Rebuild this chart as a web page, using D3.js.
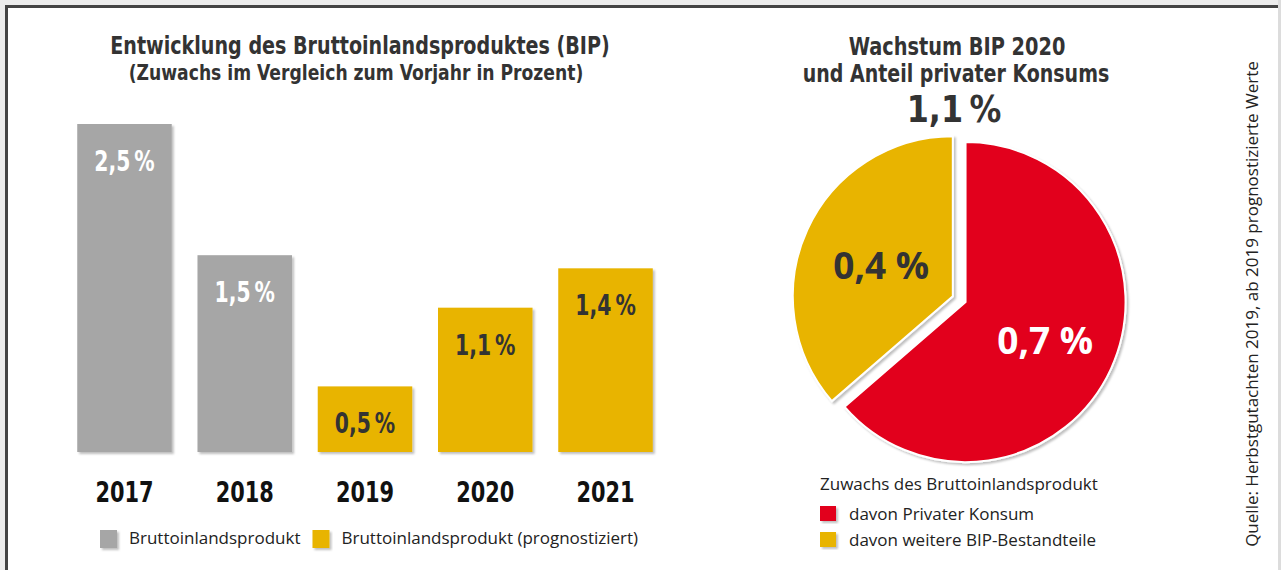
<!DOCTYPE html>
<html>
<head>
<meta charset="utf-8">
<script src="https://cdn.jsdelivr.net/npm/d3@7"></script>
<style>
  body { margin: 0; background: #ececec; overflow: hidden; }
  svg { display: block; }
</style>
</head>
<body>
<div id="chart"></div>
<script>
// ── Daten ────────────────────────────────────────────
const years       = ['2017', '2018', '2019', '2020', '2021'];
const growth      = [2.5, 1.5, 0.5, 1.1, 1.4];
const forecast    = [false, false, true, true, true];
const barLegend   = ['Bruttoinlandsprodukt', 'Bruttoinlandsprodukt (prognostiziert)'];

const pieLabels   = ['davon Privater Konsum', 'davon weitere BIP-Bestandteile'];
const pieValues   = [0.7, 0.4];
const pieTotal    = 1.1;

const W = 1281, H = 570;
const GREY = '#a6a6a6', YELLOW = '#e8b400', RED = '#e2001a', INK = '#333333';
const COND = "'DejaVu Sans Condensed', 'DejaVu Sans', sans-serif";
const SANS = "'Open Sans', 'Noto Sans', sans-serif";

const fmt = (v, sep) => v.toFixed(1).replace('.', ',') + sep + '%';

// schmale Schrift: horizontal gestauchter Text (kein Narrow-Font installiert)
function narrowText(g, x, y, sx, size) {
    return g.append('text')
        .attr('transform', `translate(${x},${y}) scale(${sx},1)`)
        .attr('text-anchor', 'middle')
        .style('font-family', COND).style('font-weight', 'bold').style('font-size', size + 'px')
        .attr('fill', INK);
}

const svg = d3.select('#chart').append('svg')
    .attr('width', W).attr('height', H);

const defs = svg.append('defs');
defs.append('filter').attr('id', 'shadow')
    .attr('x', '-10%').attr('y', '-10%').attr('width', '130%').attr('height', '130%')
    .append('feDropShadow')
    .attr('dx', 2).attr('dy', 2).attr('stdDeviation', 1.3)
    .attr('flood-color', '#000').attr('flood-opacity', 0.25);

// ── Rahmen ───────────────────────────────────────────
svg.append('rect').attr('width', W).attr('height', H).attr('fill', '#ececec');
svg.append('rect').attr('x', 8).attr('y', 8).attr('width', 1270).attr('height', H - 8).attr('fill', '#fff');
svg.append('rect').attr('x', 5).attr('y', 5).attr('width', 1273).attr('height', 3).attr('fill', '#444');
svg.append('rect').attr('x', 5).attr('y', 5).attr('width', 3).attr('height', H - 5).attr('fill', '#444');
svg.append('rect').attr('x', 1278).attr('y', 0).attr('width', 3).attr('height', H).attr('fill', '#dcdcdc');

// ── Balkendiagramm ───────────────────────────────────
const x = d3.scaleBand().domain(years).range([64, 666]).paddingInner(0.214).paddingOuter(0.11);
const y = d3.scaleLinear().domain([0, 2.5]).range([452, 124]);

const left = svg.append('g');

narrowText(left, 360, 54, 0.885, 24).text('Entwicklung des Bruttoinlandsproduktes (BIP)');
narrowText(left, 356, 80, 0.91, 21).text('(Zuwachs im Vergleich zum Vorjahr in Prozent)');

const bars = left.selectAll('g.bar')
    .data(years.map((yr, i) => ({ yr, v: growth[i], f: forecast[i] })))
    .join('g').attr('class', 'bar');

bars.append('rect')
    .attr('x', d => x(d.yr))
    .attr('y', d => y(d.v))
    .attr('width', x.bandwidth())
    .attr('height', d => y(0) - y(d.v))
    .attr('fill', d => d.f ? YELLOW : GREY)
    .attr('filter', 'url(#shadow)');

bars.each(function (d) {
    narrowText(d3.select(this), x(d.yr) + x.bandwidth() / 2, y(d.v) + 47, 0.78, 29)
        .attr('fill', d.f ? INK : '#fff')
        .text(fmt(d.v, '\u2009'));
});

// Grundlinie
left.append('line')
    .attr('x1', 45).attr('x2', 665)
    .attr('y1', 459).attr('y2', 459)
    .attr('stroke', '#333').attr('stroke-width', 3)
    .attr('filter', 'url(#shadow)');

// Jahreszahlen
const xAxis = left.append('g')
    .attr('transform', 'translate(0,459)')
    .call(d3.axisBottom(x).tickSize(0).tickPadding(43));
xAxis.select('.domain').remove();
xAxis.selectAll('text')
    .attr('dy', 0)
    .attr('transform', 'scale(0.8,1)')
    .style('font-family', COND).style('font-weight', 'bold').style('font-size', '29px')
    .attr('fill', '#111');

// Legende links
const lgL = left.append('g').attr('transform', 'translate(100,530)');
let lx = 0;
barLegend.forEach((label, i) => {
    lgL.append('rect').attr('x', lx).attr('y', 0).attr('width', 17).attr('height', 18)
        .attr('fill', i ? YELLOW : GREY).attr('filter', 'url(#shadow)');
    const t = lgL.append('text').attr('x', lx + 29).attr('y', 14)
        .style('font-family', SANS).style('font-size', '17px')
        .attr('fill', '#222').text(label);
    lx += 29 + t.node().getComputedTextLength() + 12;
});

// ── Kreisdiagramm ────────────────────────────────────
const right = svg.append('g');

narrowText(right, 957, 55, 0.895, 24).text('Wachstum BIP 2020');
narrowText(right, 956, 82, 0.88, 24).text('und Anteil privater Konsums');
narrowText(right, 954, 122, 0.93, 38).text(fmt(pieTotal, '\u2009'));

const cx = 961, cy = 300, R = 160;
const explode = [5, 9];
const pie = d3.pie().sort(null).startAngle(0).endAngle(2 * Math.PI)(pieValues);
const arc = d3.arc().innerRadius(0).outerRadius(R);
const labelArc = d3.arc().innerRadius(R * 0.52).outerRadius(R * 0.52);

const slices = right.selectAll('g.slice')
    .data(pie)
    .join('g').attr('class', 'slice')
    .attr('transform', (d, i) => {
        const a = (d.startAngle + d.endAngle) / 2;
        return `translate(${cx + Math.sin(a) * explode[i]},${cy - Math.cos(a) * explode[i]})`;
    });

slices.append('path')
    .attr('d', arc)
    .attr('fill', (d, i) => i ? YELLOW : RED)
    .attr('stroke', '#fff').attr('stroke-width', 2)
    .attr('filter', 'url(#shadow)');

slices.append('text')
    .attr('transform', d => {
        const [lx, ly] = labelArc.centroid(d);
        return `translate(${lx + 4},${ly + 4})`;
    })
    .attr('text-anchor', 'middle')
    .attr('dy', '0.36em')
    .style('font-family', SANS).style('font-weight', 'bold').style('font-size', '37px')
    .attr('fill', (d, i) => i ? INK : '#fff')
    .text(d => fmt(d.data, ' '));

// Legende rechts
const lgR = right.append('g').attr('transform', 'translate(820,490)');
lgR.append('text').attr('x', 0).attr('y', 0)
    .style('font-family', SANS).style('font-size', '17px')
    .attr('fill', '#222').text('Zuwachs des Bruttoinlandsprodukt');
pieLabels.forEach((label, i) => {
    const ly = 16 + i * 26;
    lgR.append('rect').attr('x', 0).attr('y', ly).attr('width', 16).attr('height', 15)
        .attr('fill', i ? YELLOW : RED).attr('filter', 'url(#shadow)');
    lgR.append('text').attr('x', 29).attr('y', ly + 14)
        .style('font-family', SANS).style('font-size', '17px')
        .attr('fill', '#222').text(label);
});

// Quelle
svg.append('text')
    .attr('transform', 'translate(1258,304) rotate(-90)')
    .attr('text-anchor', 'middle')
    .style('font-family', SANS).style('font-size', '17px')
    .attr('fill', '#222')
    .text('Quelle: Herbstgutachten 2019, ab 2019 prognostizierte Werte');
</script>
</body>
</html>
